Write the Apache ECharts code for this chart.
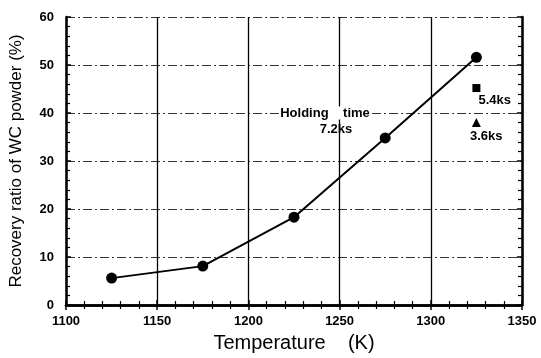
<!DOCTYPE html>
<html>
<head>
<meta charset="utf-8">
<script src="https://cdn.jsdelivr.net/npm/echarts@6/dist/echarts.min.js"></script>
<style>
  html, body { margin: 0; padding: 0; background: #fff; }
  #chart { width: 541px; height: 358px; }
</style>
</head>
<body>
<div id="chart"></div>
<script>
// 7.2ks 保持時間の曲線
var temps = [1125, 1175, 1225, 1275, 1325];
var recovery = [5.6, 8.1, 18.3, 34.8, 51.6];
// その他の保持時間 (1325K)
var temp54 = [1325];
var rec54 = [45.2];
var temp36 = [1325];
var rec36 = [38.0];

var chart = echarts.init(document.getElementById('chart'));
var font = '"Liberation Sans", Arial, sans-serif';
var txt = { fontFamily: font, fontSize: 13, fontWeight: 'bold', color: '#000' };

var axisBase = {
  type: 'value',
  axisLine: { show: true, lineStyle: { color: '#000', width: 2.5 } },
  axisTick: { show: true, inside: true, length: 5, lineStyle: { color: '#000', width: 1.5 } },
  minorTick: { show: true, splitNumber: 5, length: 4, lineStyle: { color: '#000', width: 1.2 } }
};

var option = {
  backgroundColor: '#fff',
  animation: false,
  grid: { left: 64, right: 19, top: 17, bottom: 52 },
  xAxis: [
    Object.assign({}, axisBase, {
      min: 1100, max: 1350, interval: 50,
      name: 'Temperature    (K)',
      nameLocation: 'middle', nameGap: 28,
      nameTextStyle: { fontFamily: font, fontSize: 20, color: '#000' },
      axisLabel: { fontFamily: font, fontSize: 13, fontWeight: 'bold', color: '#000', margin: 10,
        formatter: function (v) { return String(v); } },
      splitLine: { show: true, lineStyle: { color: '#000', width: 1.3 } }
    }),
    Object.assign({}, axisBase, {
      min: 1100, max: 1350, interval: 50, position: 'top',
      axisLabel: { show: false }, splitLine: { show: false }
    })
  ],
  yAxis: [
    Object.assign({}, axisBase, {
      min: 0, max: 60, interval: 10,
      name: 'Recovery ratio of WC powder (%)',
      nameLocation: 'middle', nameGap: 41,
      nameTextStyle: { fontFamily: font, fontSize: 17, color: '#000' },
      axisLabel: { fontFamily: font, fontSize: 13, fontWeight: 'bold', color: '#000', margin: 12 },
      splitLine: { show: true, lineStyle: { color: '#333', width: 1, type: [9, 3, 2, 3] } }
    }),
    Object.assign({}, axisBase, {
      min: 0, max: 60, interval: 10, position: 'right',
      axisLabel: { show: false }, splitLine: { show: false }
    })
  ],
  series: [
    {
      type: 'line',
      data: temps.map(function (t, i) { return [t, recovery[i]]; }),
      symbol: 'circle', symbolSize: 11,
      itemStyle: { color: '#000' },
      lineStyle: { color: '#000', width: 2 }
    },
    {
      type: 'scatter',
      data: temp54.map(function (t, i) { return [t, rec54[i]]; }),
      symbol: 'rect', symbolSize: 8,
      itemStyle: { color: '#000', opacity: 1 },
      label: Object.assign({ show: true, position: [6, 10], formatter: '5.4ks' }, txt)
    },
    {
      type: 'scatter',
      data: temp36.map(function (t, i) { return [t, rec36[i]]; }),
      symbol: 'triangle', symbolSize: 9,
      itemStyle: { color: '#000', opacity: 1 },
      label: Object.assign({ show: true, position: [-2, 12], formatter: '3.6ks' }, txt)
    },
    {
      // 注記 "Holding time / 7.2ks"
      type: 'scatter',
      symbolSize: 0,
      silent: true,
      itemStyle: { color: '#000', opacity: 1 },
      data: [
        { value: [1242, 40.0], label: Object.assign({ show: true, position: 'inside', formatter: 'Holding    time', backgroundColor: '#fff' }, txt) },
        { value: [1248, 36.5], label: Object.assign({ show: true, position: 'inside', formatter: '7.2ks' }, txt) }
      ]
    }
  ]
};

chart.setOption(option);
</script>
</body>
</html>
